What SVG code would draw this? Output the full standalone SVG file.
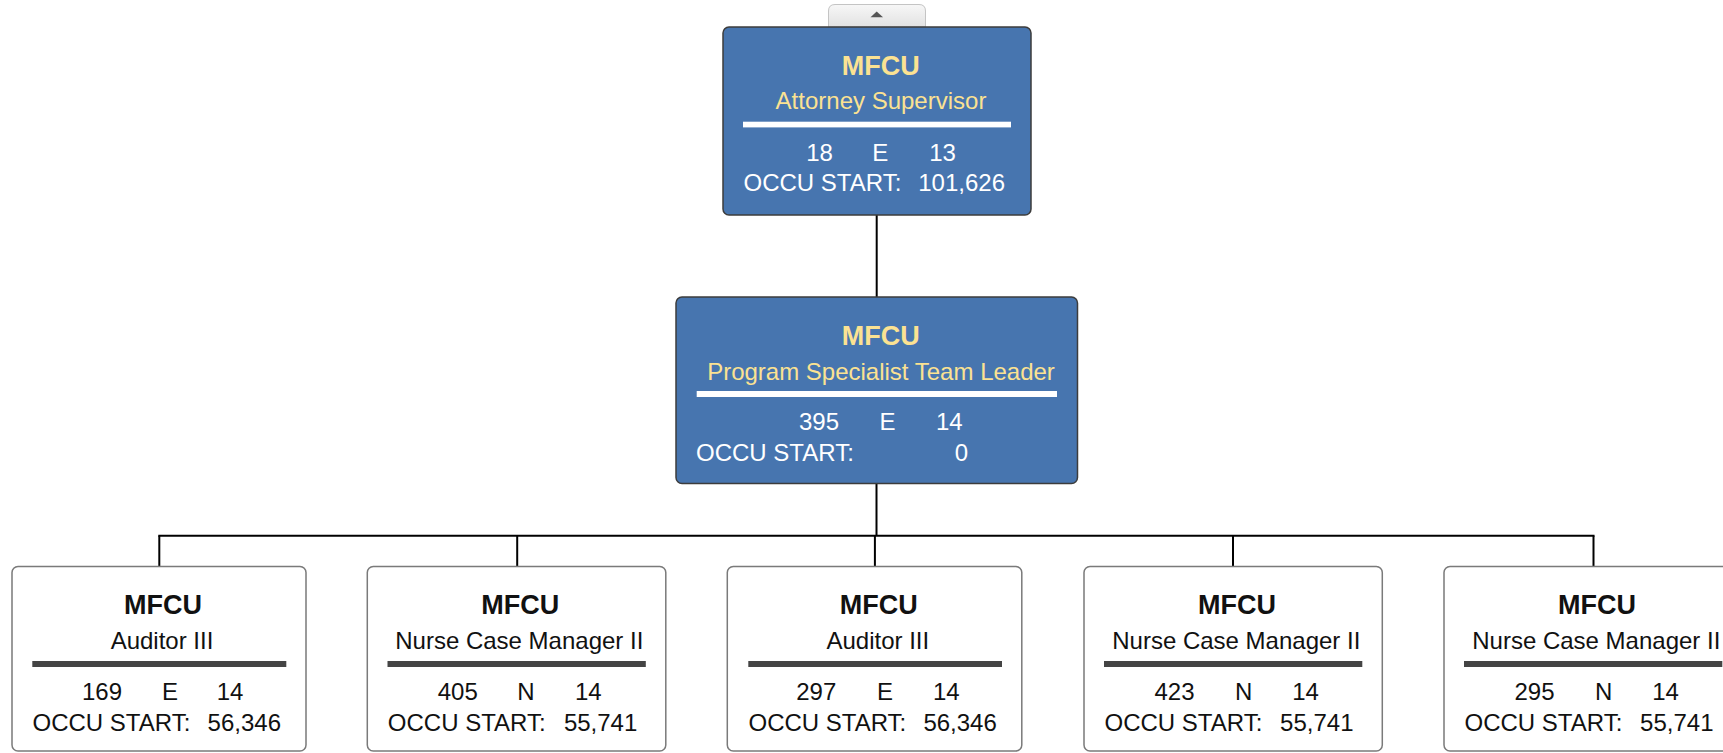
<svg xmlns="http://www.w3.org/2000/svg" width="1723" height="753" viewBox="0 0 1723 753">
<defs>
<linearGradient id="tabg" x1="0" y1="0" x2="0" y2="1">
<stop offset="0" stop-color="#f7f7f7"/>
<stop offset="1" stop-color="#e2e2e2"/>
</linearGradient>
<style>
.blue{fill:#4775AF;stroke:#3c3c3c;stroke-width:1.5}
.white{fill:#ffffff;stroke:#7a7a7a;stroke-width:1.5}
.t{font-family:"Liberation Sans",Arial,sans-serif;font-size:24px}
.b{font-family:"Liberation Sans",Arial,sans-serif;font-size:27px;font-weight:bold}
.y{fill:#FBE292}
.w{fill:#ffffff}
.k{fill:#111111}
.c{text-anchor:middle}
.e{text-anchor:end}
.wl{fill:#ffffff}
.dl{fill:#444444}
.conn{stroke:#000;stroke-width:2;fill:none}
</style>
</defs>

<g id="tab">
<path d="M828.5,27 L828.5,11 Q828.5,4.5 835,4.5 L919,4.5 Q925.5,4.5 925.5,11 L925.5,27 Z" fill="url(#tabg)" stroke="#c4c4c4" stroke-width="1"/>
<polygon points="870.5,17.3 883,17.3 876.7,11.5" fill="#555"/>
</g>

<g id="connectors">
<line class="conn" x1="876.7" y1="215" x2="876.7" y2="297"/>
<line class="conn" x1="876.5" y1="483.5" x2="876.5" y2="535.7"/>
<line class="conn" x1="158.3" y1="535.7" x2="1594.5" y2="535.7"/>
<line class="conn" x1="159.3" y1="535.7" x2="159.3" y2="566.5"/>
<line class="conn" x1="517.2" y1="535.7" x2="517.2" y2="566.5"/>
<line class="conn" x1="874.9" y1="535.7" x2="874.9" y2="566.5"/>
<line class="conn" x1="1233" y1="535.7" x2="1233" y2="566.5"/>
<line class="conn" x1="1593.5" y1="535.7" x2="1593.5" y2="566.5"/>
</g>

<g id="node-top">
<rect class="blue" x="723" y="27" width="308" height="188" rx="6"/>
<text class="b y c" x="880.8" y="75">MFCU</text>
<text class="t y c" x="881" y="109">Attorney Supervisor</text>
<rect class="wl" x="743" y="121.7" width="268" height="5.7"/>
<text class="t w c" x="819.5" y="161">18</text>
<text class="t w c" x="880.3" y="161">E</text>
<text class="t w c" x="942.5" y="161">13</text>
<text class="t w" x="743.5" y="191">OCCU START:</text>
<text class="t w e" x="1005" y="191">101,626</text>
</g>

<g id="node-mid">
<rect class="blue" x="676" y="297" width="401.5" height="186.5" rx="6"/>
<text class="b y c" x="880.8" y="345">MFCU</text>
<text class="t y c" x="881" y="380">Program Specialist Team Leader</text>
<rect class="wl" x="696.7" y="391" width="360.3" height="6"/>
<text class="t w c" x="819" y="430">395</text>
<text class="t w c" x="887.5" y="430">E</text>
<text class="t w c" x="949.3" y="430">14</text>
<text class="t w" x="696" y="460.7">OCCU START:</text>
<text class="t w e" x="968" y="460.7">0</text>
</g>

<g id="node-1" transform="translate(12,566.5)">
<rect class="white" x="0" y="0" width="294" height="184.5" rx="6"/>
<text class="b k c" x="151" y="47.5">MFCU</text>
<text class="t k c" x="150" y="82">Auditor III</text>
<rect class="dl" x="20.3" y="94.5" width="254" height="6"/>
<text class="t k c" x="90" y="133.5">169</text>
<text class="t k c" x="158" y="133.5">E</text>
<text class="t k c" x="218" y="133.5">14</text>
<text class="t k" x="20.5" y="164">OCCU START:</text>
<text class="t k e" x="269" y="164">56,346</text>
</g>

<g id="node-2" transform="translate(367.3,566.5)">
<rect class="white" x="0" y="0" width="298.5" height="184.5" rx="6"/>
<text class="b k c" x="153" y="47.5">MFCU</text>
<text class="t k c" x="152" y="82">Nurse Case Manager II</text>
<rect class="dl" x="20.2" y="94.5" width="258.3" height="6"/>
<text class="t k c" x="90.5" y="133.5">405</text>
<text class="t k c" x="158.5" y="133.5">N</text>
<text class="t k c" x="221" y="133.5">14</text>
<text class="t k" x="20.5" y="164">OCCU START:</text>
<text class="t k e" x="270" y="164">55,741</text>
</g>

<g id="node-3" transform="translate(727.3,566.5)">
<rect class="white" x="0" y="0" width="294.5" height="184.5" rx="6"/>
<text class="b k c" x="151.5" y="47.5">MFCU</text>
<text class="t k c" x="150.5" y="82">Auditor III</text>
<rect class="dl" x="21" y="94.5" width="253.7" height="6"/>
<text class="t k c" x="89" y="133.5">297</text>
<text class="t k c" x="157.7" y="133.5">E</text>
<text class="t k c" x="219" y="133.5">14</text>
<text class="t k" x="21.2" y="164">OCCU START:</text>
<text class="t k e" x="269.5" y="164">56,346</text>
</g>

<g id="node-4" transform="translate(1084,566.5)">
<rect class="white" x="0" y="0" width="298.3" height="184.5" rx="6"/>
<text class="b k c" x="153" y="47.5">MFCU</text>
<text class="t k c" x="152.3" y="82">Nurse Case Manager II</text>
<rect class="dl" x="20" y="94.5" width="258.3" height="6"/>
<text class="t k c" x="90.5" y="133.5">423</text>
<text class="t k c" x="159.7" y="133.5">N</text>
<text class="t k c" x="221.5" y="133.5">14</text>
<text class="t k" x="20.5" y="164">OCCU START:</text>
<text class="t k e" x="269.5" y="164">55,741</text>
</g>

<g id="node-5" transform="translate(1444,566.5)">
<rect class="white" x="0" y="0" width="298.3" height="184.5" rx="6"/>
<text class="b k c" x="153" y="47.5">MFCU</text>
<text class="t k c" x="152.3" y="82">Nurse Case Manager II</text>
<rect class="dl" x="20" y="94.5" width="258.3" height="6"/>
<text class="t k c" x="90.5" y="133.5">295</text>
<text class="t k c" x="159.7" y="133.5">N</text>
<text class="t k c" x="221.5" y="133.5">14</text>
<text class="t k" x="20.5" y="164">OCCU START:</text>
<text class="t k e" x="269.5" y="164">55,741</text>
</g>
</svg>
